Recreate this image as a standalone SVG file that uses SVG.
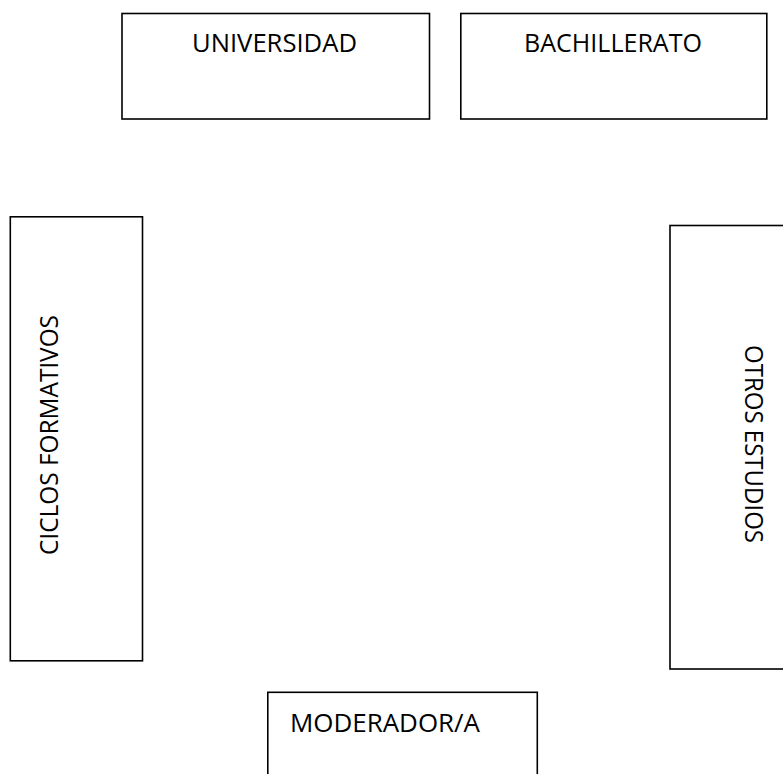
<svg xmlns="http://www.w3.org/2000/svg" width="783" height="774" viewBox="0 0 783 774">
<style>
.box{fill:#fff;stroke:#000;stroke-width:1.6}
.lbl{font-family:"Open Sans","Liberation Sans",sans-serif;font-size:26px;fill:#000}
</style>
<rect width="783" height="774" fill="#fff"/>
<g id="universidad">
<rect class="box" x="122" y="13.5" width="307.5" height="105.5"/>
<text class="lbl" x="192" y="51.5" textLength="165" lengthAdjust="spacingAndGlyphs">UNIVERSIDAD</text>
</g>
<g id="bachillerato">
<rect class="box" x="460.8" y="13.5" width="306" height="105.5"/>
<text class="lbl" x="524" y="51.5" textLength="178" lengthAdjust="spacingAndGlyphs">BACHILLERATO</text>
</g>
<g id="ciclos">
<rect class="box" x="10.3" y="216.8" width="132.2" height="444"/>
<text class="lbl" transform="translate(58,555) rotate(-90)" x="0" y="0" textLength="240" lengthAdjust="spacingAndGlyphs">CICLOS FORMATIVOS</text>
</g>
<g id="otros">
<rect class="box" x="670" y="225.5" width="120" height="443.5"/>
<text class="lbl" transform="translate(745,345) rotate(90)" x="0" y="0" textLength="198" lengthAdjust="spacingAndGlyphs">OTROS ESTUDIOS</text>
</g>
<g id="moderador">
<rect class="box" x="267.8" y="692.3" width="269.5" height="100"/>
<text class="lbl" x="290" y="731.5" textLength="190" lengthAdjust="spacingAndGlyphs">MODERADOR/A</text>
</g>
<g id="connectors"></g>
</svg>
